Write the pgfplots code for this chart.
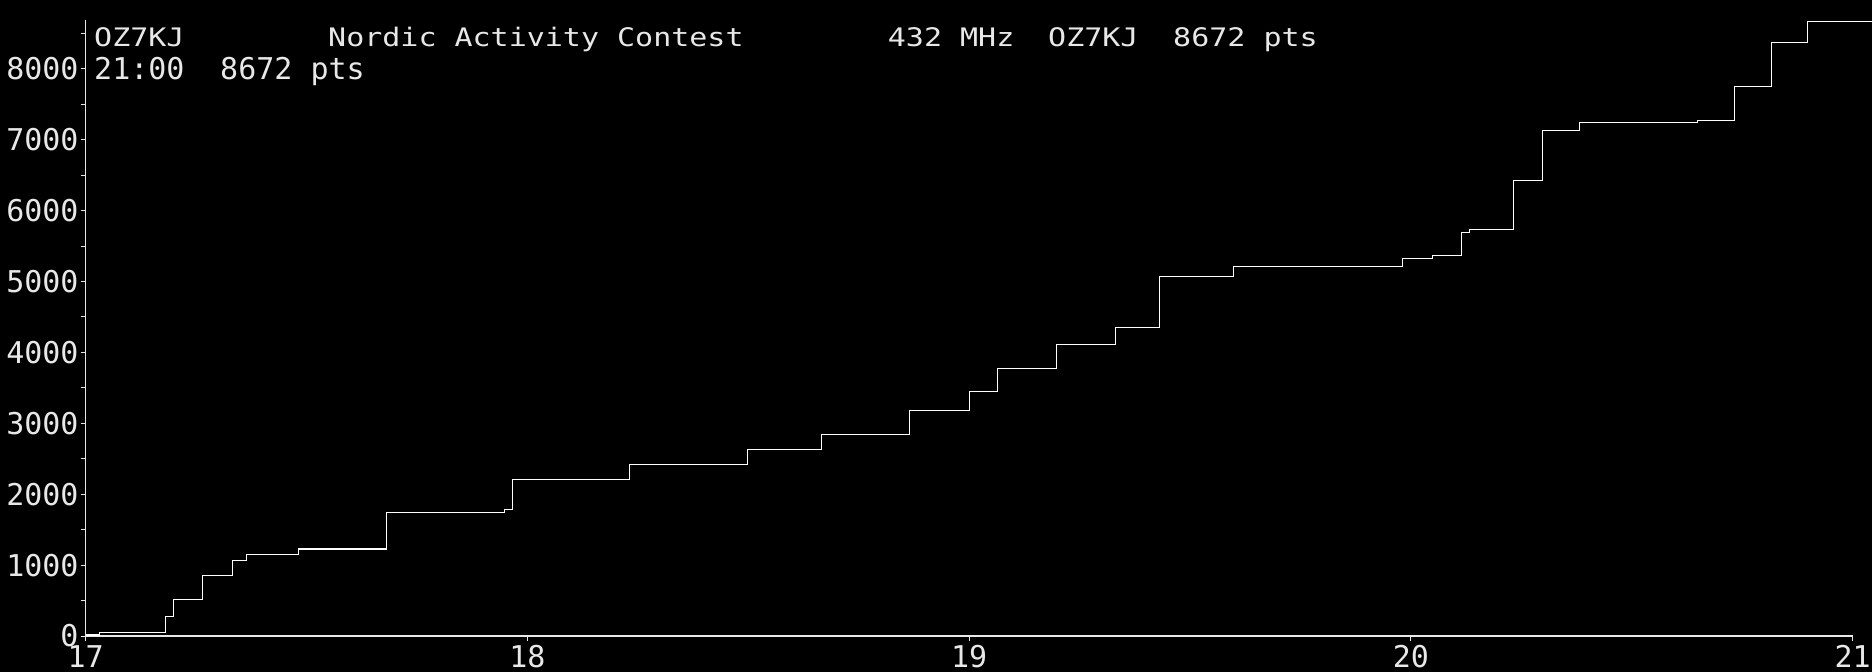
\documentclass[border=0pt]{standalone}
\usepackage{fontspec}
\usepackage{graphicx}
\usepackage{pgfplots}
\pgfplotsset{compat=1.18}
\newfontfamily\dosfont{DejaVu Sans Mono}
\definecolor{txt}{RGB}{232,232,232}
\pgfplotstableread{
t v
17.000 15
17.031 50
17.180 278
17.199 517
17.264 855
17.332 1067
17.364 1153
17.481 1227
17.681 1744
17.948 1787
17.966 2210
18.231 2421
18.498 2633
18.666 2845
18.865 3183
19.000 3452
19.064 3776
19.198 4115
19.331 4355
19.431 5073
19.599 5215
19.981 5327
20.049 5370
20.114 5694
20.132 5736
20.232 6428
20.298 7133
20.382 7246
20.649 7274
20.732 7754
20.816 8373
20.897 8672
21.045 8672
}\score
\begin{document}
\begin{tikzpicture}[x=1pt,y=1pt]
\fill[black] (-85.7,-36) rectangle (1786.3,636);
\useasboundingbox (-85.7,-36) rectangle (1786.3,636);
\begin{axis}[at={(0,0)}, anchor=south west, scale only axis,
  width=1767pt, height=616pt,
  xmin=17, xmax=21, ymin=0, ymax=8688,
  axis x line=bottom, axis y line=left,
  axis line style={-, txt, line width=1.2pt},
  xtick={17,18,19,20,21},
  ytick={0,1000,...,8000},
  minor ytick={500,1500,...,8500},
  tick align=outside,
  major tick length=5pt, minor tick length=5pt,
  tick style={txt, line width=1pt},
  ticklabel style={font=\dosfont\fontsize{30}{30}\selectfont, text=txt, inner sep=0pt},
  /pgf/number format/assume math mode=true,
  /pgf/number format/set thousands separator={},
  scaled y ticks=false,
  clip=false,
  yticklabel style={xshift=-2pt},
  xticklabel style={yshift=-4pt},
]
\addplot[const plot, no marks, white, line width=1.2pt] table[x=t, y=v] {\score};
\end{axis}
\begin{scope}[every node/.style={anchor=base west, inner sep=0pt, text=txt, font=\dosfont\fontsize{30}{30}\selectfont}]
\node at (8.3,589.3) {\scalebox{1}[0.85]{OZ7KJ}};
\node at (242.3,589.3) {\scalebox{1}[0.85]{Nordic Activity Contest}};
\node at (802,589.3) {\scalebox{1}[0.85]{432 MHz}};
\node at (962.3,589.3) {\scalebox{1}[0.85]{OZ7KJ}};
\node at (1087.3,589.3) {\scalebox{1}[0.85]{8672 pts}};
\node at (8.3,556.7) {21:00};
\node at (134.3,556.7) {8672 pts};
\end{scope}
\end{tikzpicture}
\end{document}
